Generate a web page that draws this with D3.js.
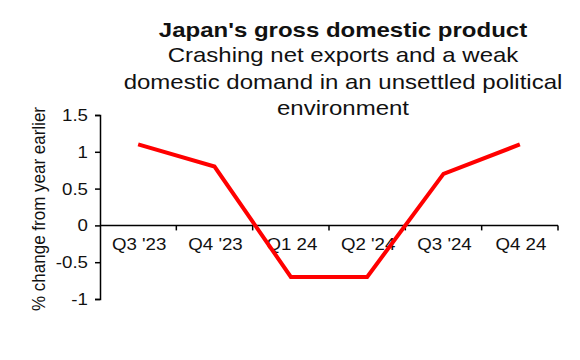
<!DOCTYPE html>
<html><head><meta charset="utf-8">
<script src="https://cdn.jsdelivr.net/npm/d3@7/dist/d3.min.js"></script>
<style>body{margin:0;background:#fff;} svg{display:block;font-family:"Liberation Sans",Arial,sans-serif;}</style>
</head><body>
<script>
const categories = ["Q3 '23", "Q4 '23", "Q1 24", "Q2 '24", "Q3 '24", "Q4 24"];
const values = [1.1, 0.8, -0.7, -0.7, 0.7, 1.1];
const yTicks = [-1, -0.5, 0, 0.5, 1, 1.5];
const yTickLabels = ["-1", "-0.5", "0", "0.5", "1", "1.5"];
const title = "Japan's gross domestic product";
const subtitleLines = ["Crashing net exports and a weak", "domestic domand in an unsettled political", "environment"];
const yLabel = "% change from year earlier";

const W = 580, H = 360;
const svg = d3.select("body").append("svg").attr("width", W).attr("height", H);

const x = d3.scaleBand().domain(categories).range([100, 558]);
const y = d3.scaleLinear().domain([-1, 1.5]).range([299, 115]);
const SX = 1.2;   // horizontal stretch of title text
const TX = 1.1;   // horizontal stretch of tick text

function stretched(g, px, py, sx) {
  return g.append("text").attr("transform", `translate(${px},${py}) scale(${sx},1)`);
}

// title
stretched(svg, 343, 36.5, SX).attr("text-anchor", "middle")
  .attr("font-weight", "bold").attr("font-size", 20).attr("fill", "#111").text(title);
subtitleLines.forEach((t, i) => {
  stretched(svg, 343, 62 + i * 26.5, SX).attr("text-anchor", "middle")
    .attr("font-size", 20).attr("fill", "#111").text(t);
});

// y axis
const yAxis = svg.append("g").attr("transform", "translate(100,0)")
  .call(d3.axisLeft(y).tickValues(yTicks).tickSize(5).tickFormat(""));
yAxis.select(".domain").attr("stroke", "#000").attr("stroke-width", 1.5);
yAxis.selectAll(".tick line").attr("stroke", "#000").attr("stroke-width", 1.5);
yTicks.forEach((v, i) => {
  stretched(svg, 88, y(v) + 6, TX).attr("text-anchor", "end")
    .attr("font-size", 17).attr("fill", "#111").text(yTickLabels[i]);
});

// x axis at zero
const xg = svg.append("g").attr("transform", `translate(0,${y(0)})`);
xg.append("line").attr("x1", x.range()[0]).attr("x2", x.range()[1]).attr("stroke", "#000").attr("stroke-width", 1.5);
const bounds = categories.map(c => x(c) + x.bandwidth());
xg.selectAll("line.tk").data(bounds).enter().append("line").attr("class", "tk")
  .attr("x1", d => d).attr("x2", d => d).attr("y1", 0).attr("y2", 5)
  .attr("stroke", "#000").attr("stroke-width", 1.5);
categories.forEach(c => {
  stretched(svg, x(c) + x.bandwidth() / 2 + 1, 250, TX).attr("text-anchor", "middle")
    .attr("font-size", 17).attr("fill", "#111").text(c);
});

// y label
svg.append("text").attr("transform", `translate(45,209) rotate(-90) scale(1,1.1)`)
  .attr("text-anchor", "middle").attr("font-size", 17).attr("fill", "#111").text(yLabel);

// line
const line = d3.line().x((d, i) => x(categories[i]) + x.bandwidth() / 2).y(d => y(d));
svg.append("path").datum(values).attr("d", line).attr("fill", "none")
  .attr("stroke", "#ff0000").attr("stroke-width", 4).attr("stroke-linejoin", "miter");
</script>
</body></html>
